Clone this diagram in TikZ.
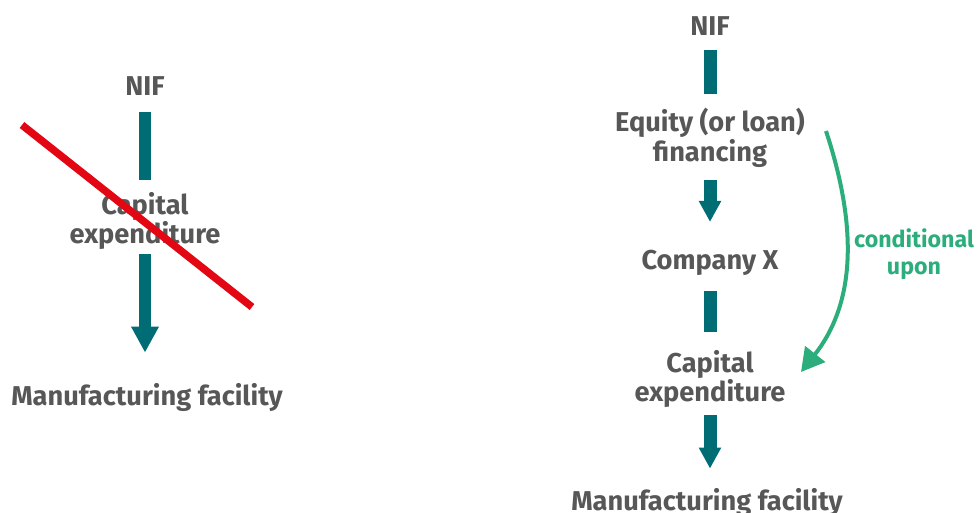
\documentclass[tikz,border=0pt]{standalone}
\usepackage{fontspec}
\setmainfont{Fira Sans}
\usetikzlibrary{arrows.meta}
\definecolor{txtgrey}{HTML}{575757}
\definecolor{barteal}{HTML}{006C74}
\definecolor{condgreen}{HTML}{2BAE7B}
\definecolor{crossred}{HTML}{E30613}

\begin{document}
\begin{tikzpicture}[x=0.02cm,y=-0.02cm,
		txt/.style={font=\fontsize{15.5}{15.8}\selectfont\bfseries,text=txtgrey,align=center,inner sep=0pt},
		bar/.style={line width=0.26cm,draw=barteal},
		bighead/.style={bar,-{Triangle[width=0.52cm,length=0.52cm]}},
		smallhead/.style={bar,-{Triangle[width=0.42cm,length=0.42cm]}},
		cond/.style={line width=0.08cm,draw=condgreen,-{Triangle[width=0.5cm,length=0.46cm]}}]
			\useasboundingbox (0,0) rectangle (978,512);
			% left: direct route, crossed out
			\node[txt] (l1) at (145,86){NIF};
			\node[txt] (l2) at (145,221){Capital\\expenditure};
			\node[txt] (l3) at (147,397){Manufacturing facility};
			\draw[bar,shorten <=0.32cm,shorten >=0.24cm] (l1) -- (l2);
			\draw[bighead,shorten <=0.08cm,shorten >=0.6cm] (l2) -- (l2 |- l3.north);
			\draw[crossred,line width=0.15cm] (22,125) -- (252,307);
			% right: route through company X
			\node[txt] (r1) at (710,26){NIF};
			\node[txt] (r2) at (710,138){Equity (or loan)\\financing};
			\node[txt] (r3) at (710,263){Company X};
			\node[txt] (r4) at (710,379){Capital\\expenditure};
			\node[txt] (r5) at (707,502){Manufacturing facility};
			\draw[bar,shorten <=0.28cm,shorten >=0.28cm] (r1) -- (r2);
			\draw[smallhead,shorten <=0.24cm,shorten >=0.56cm] (r2) -- (r3);
			\draw[bar,shorten <=0.3cm,shorten >=0.36cm] (r3) -- (r4);
			\draw[smallhead,shorten <=0.14cm,shorten >=0.38cm] (r4) -- (r4 |- r5.north);
			\coordinate (c1) at (826,131);
			\coordinate (c2) at (801,372);
			\draw[cond] (c1) .. controls (862,240) and (850,310) .. (c2);
			\node[txt,text=condgreen,font=\fontsize{13.2}{15.4}\selectfont\bfseries] (c3) at (914,254){conditional\\upon};
		\end{tikzpicture}
\end{document}
